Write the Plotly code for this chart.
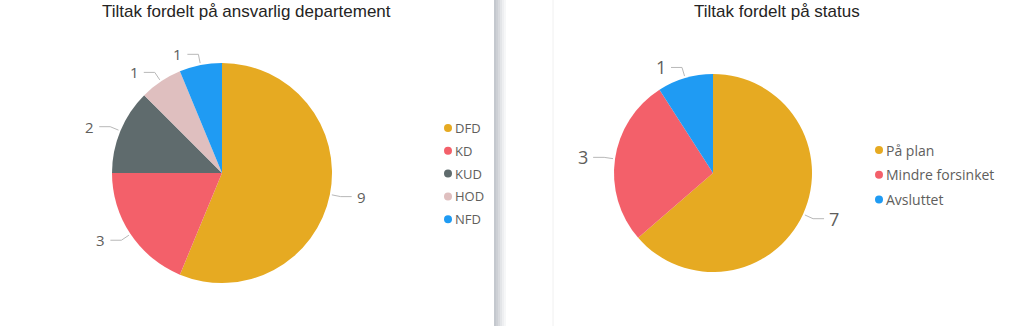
import math
import plotly.graph_objects as go

W, H = 1024, 326

# ---- data ----
dept_labels = ["DFD", "KD", "KUD", "HOD", "NFD"]
dept_values = [9, 3, 2, 1, 1]
dept_colors = ["#E6AA22", "#F3606A", "#5F6B6D", "#DFBFBF", "#1F9BF3"]

status_labels = ["På plan", "Mindre forsinket", "Avsluttet"]
status_values = [7, 3, 1]
status_colors = ["#E6AA22", "#F3606A", "#1F9BF3"]

left_title = "Tiltak fordelt på ansvarlig departement"
right_title = "Tiltak fordelt på status"

# ---- layout constants (pixels) ----
LEFT = dict(cx=222, cy=173, r=110, title_x=246, leg_x=448, leg_y0=128, leg_dy=22.8,
            leg_font=13, lab_font=15)
RIGHT = dict(cx=713, cy=173, r=99, title_x=777, leg_x=879, leg_y0=150, leg_dy=24.8,
             leg_font=14, lab_font=18)

TEXT_FONT = "Segoe UI, Open Sans, sans-serif"
TITLE_FONT = "Arial, Liberation Sans, sans-serif"
GREY = "#605E5C"

fig = go.Figure()
annotations = []
shapes = []


def domain(cfg):
    cx, cy, r = cfg["cx"], cfg["cy"], cfg["r"]
    return dict(x=[(cx - r) / W, (cx + r) / W], y=[1 - (cy + r) / H, 1 - (cy - r) / H])


def add_chart(labels, values, colors, cfg, title):
    fig.add_trace(go.Pie(
        labels=labels, values=values, sort=False, direction="clockwise", rotation=0,
        marker=dict(colors=colors, line=dict(width=0)), textinfo="none",
        hoverinfo="label+value", showlegend=False, domain=domain(cfg)))

    # leader lines + value labels derived from the data
    total = sum(values)
    cum = 0
    lx, ly = [], []
    cx, cy, r = cfg["cx"], cfg["cy"], cfg["r"]
    for v in values:
        mid = (cum + v / 2) / total * 2 * math.pi
        cum += v
        s, c = math.sin(mid), -math.cos(mid)
        x0, y0 = cx + s * (r + 2), cy + c * (r + 2)
        x1, y1 = cx + s * (r + 11), cy + c * (r + 11)
        side = 1 if s >= 0 else -1
        x2 = x1 + side * 11
        lx += [x0, x1, x2, None]
        ly += [y0, y1, y1, None]
        annotations.append(dict(
            x=x2 + side * 3, y=y1, xref="x", yref="y", text=str(v), showarrow=False,
            xanchor="left" if side > 0 else "right", yanchor="middle",
            font=dict(family=TEXT_FONT, size=cfg["lab_font"], color=GREY)))
    fig.add_trace(go.Scatter(x=lx, y=ly, mode="lines", line=dict(color="#B8B8B8", width=1),
                             hoverinfo="skip", showlegend=False))

    # legend: circle markers + labels
    ys = [cfg["leg_y0"] + i * cfg["leg_dy"] for i in range(len(labels))]
    fig.add_trace(go.Scatter(x=[cfg["leg_x"]] * len(labels), y=ys, mode="markers",
                             marker=dict(color=colors, size=8, symbol="circle"),
                             hoverinfo="skip", showlegend=False))
    for lab, y in zip(labels, ys):
        annotations.append(dict(
            x=cfg["leg_x"] + 5, y=y, xref="x", yref="y", text=lab, showarrow=False,
            xanchor="left", yanchor="middle",
            font=dict(family=TEXT_FONT, size=cfg["leg_font"], color=GREY)))

    annotations.append(dict(
        x=cfg["title_x"], y=11, xref="x", yref="y", text=title, showarrow=False,
        xanchor="center", yanchor="middle",
        font=dict(family=TITLE_FONT, size=17, color="#252423")))


add_chart(dept_labels, dept_values, dept_colors, LEFT, left_title)
add_chart(status_labels, status_values, status_colors, RIGHT, right_title)

# panel separator shadow
shade = ["#C4C8CE", "#CDD0D5", "#D8DADE", "#E3E5E8", "#EEEFF1", "#F6F7F8"]
for i, col in enumerate(shade):
    shapes.append(dict(type="rect", xref="x", yref="y", x0=494 + i * 2, x1=496 + i * 2,
                       y0=0, y1=H, fillcolor=col, line=dict(width=0), layer="below"))
shapes.append(dict(type="line", xref="x", yref="y", x0=553, x1=553, y0=0, y1=H,
                   line=dict(color="#F0F0F0", width=1), layer="below"))

fig.update_layout(
    width=W, height=H, margin=dict(l=0, r=0, t=0, b=0),
    paper_bgcolor="white", plot_bgcolor="white",
    xaxis=dict(range=[0, W], visible=False, fixedrange=True),
    yaxis=dict(range=[H, 0], visible=False, fixedrange=True),
    annotations=annotations, shapes=shapes, showlegend=False,
)

fig.write_html("out.html")
